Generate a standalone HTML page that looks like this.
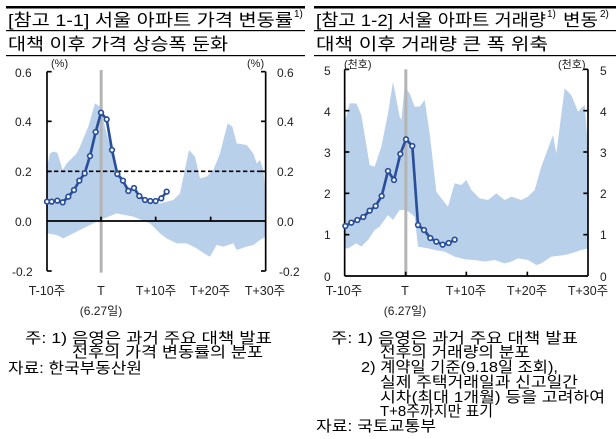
<!DOCTYPE html>
<html><head><meta charset="utf-8"><style>
html,body{margin:0;padding:0;background:#fff;}
svg{display:block;font-family:"Liberation Sans","Noto Sans CJK KR",sans-serif;}
</style></head><body>
<svg width="616" height="439" viewBox="0 0 616 439" xmlns="http://www.w3.org/2000/svg">
<rect x="6" y="6" width="299" height="2.5" fill="#000"/>
<rect x="314" y="6" width="302" height="2.5" fill="#000"/>
<rect x="6" y="30" width="299" height="1.2" fill="#000"/>
<rect x="314" y="30" width="302" height="1.2" fill="#000"/>
<rect x="6" y="55" width="299" height="1.2" fill="#000"/>
<rect x="314" y="55" width="302" height="1.2" fill="#000"/>
<g font-size="17" fill="#000">
<text x="8" y="26" textLength="285" lengthAdjust="spacingAndGlyphs">[참고 1-1] 서울 아파트 가격 변동률</text>
<text x="294" y="17" font-size="10">1)</text>
<text x="8" y="50" textLength="220" lengthAdjust="spacingAndGlyphs">대책 이후 가격 상승폭 둔화</text>
<text x="316" y="26" textLength="230" lengthAdjust="spacingAndGlyphs">[참고 1-2] 서울 아파트 거래량</text>
<text x="547" y="17" font-size="10">1)</text>
<text x="563" y="26" textLength="35" lengthAdjust="spacingAndGlyphs">변동</text>
<text x="600" y="17" font-size="10">2)</text>
<text x="316" y="50" textLength="232" lengthAdjust="spacingAndGlyphs">대책 이후 거래량 큰 폭 위축</text>
</g>

<g transform="scale(0.33333)">
<polygon fill="#b8d0ea" points="141,500 150,460 160,455 172,458 188,510 200,490 230,460 240,440 265,380 285,310 300,320 320,400 340,470 360,540 400,570 430,600 480,610 520,600 540,580 567,450 585,470 600,535 620,530 640,510 660,460 683,370 697,380 710,430 740,435 760,460 770,490 780,480 790,510 797,580 797,710 780,720 760,735 740,740 710,750 700,730 670,740 650,735 630,770 620,765 590,745 560,730 530,730 500,715 480,700 450,670 400,650 350,640 300,660 280,670 240,690 190,715 170,705 141,700"/>
<rect x="299" y="210" width="9" height="608" fill="#b4b4b4"/>
<line x1="141" y1="514" x2="797" y2="514" stroke="#000" stroke-width="5" stroke-dasharray="13,8"/>
<line x1="141" y1="663" x2="797" y2="663" stroke="#000" stroke-width="5"/>
<line x1="141" y1="215" x2="141" y2="813" stroke="#000" stroke-width="5"/>
<line x1="797" y1="215" x2="797" y2="813" stroke="#000" stroke-width="5"/>
<g stroke="#000" stroke-width="5">
<line x1="141" y1="215" x2="155" y2="215"/><line x1="141" y1="364" x2="155" y2="364"/><line x1="141" y1="514" x2="155" y2="514"/><line x1="141" y1="813" x2="155" y2="813"/>
<line x1="797" y1="215" x2="783" y2="215"/><line x1="797" y1="364" x2="783" y2="364"/><line x1="797" y1="514" x2="783" y2="514"/><line x1="797" y1="813" x2="783" y2="813"/>
<line x1="303" y1="663" x2="303" y2="650"/><line x1="467" y1="663" x2="467" y2="650"/><line x1="632" y1="663" x2="632" y2="650"/>
</g>
<polyline fill="none" stroke="#2a4f9a" stroke-width="8" points="141,605 155,605 172,602 188,607 205,590 222,570 238,542 254,520 270,468 287,396 303,338 320,358 336,450 352,522 369,542 385,573 402,564 418,588 435,600 451,603 467,603 484,595 500,575"/>
<g fill="#fff" stroke="#2a4f9a" stroke-width="5">
<circle cx="141" cy="605" r="7"/><circle cx="155" cy="605" r="7"/><circle cx="172" cy="602" r="7"/><circle cx="188" cy="607" r="7"/><circle cx="205" cy="590" r="7"/><circle cx="222" cy="570" r="7"/><circle cx="238" cy="542" r="7"/><circle cx="254" cy="520" r="7"/><circle cx="270" cy="468" r="7"/><circle cx="287" cy="396" r="7"/><circle cx="303" cy="338" r="7"/><circle cx="320" cy="358" r="7"/><circle cx="336" cy="450" r="7"/><circle cx="352" cy="522" r="7"/><circle cx="369" cy="542" r="7"/><circle cx="385" cy="573" r="7"/><circle cx="402" cy="564" r="7"/><circle cx="418" cy="588" r="7"/><circle cx="435" cy="600" r="7"/><circle cx="451" cy="603" r="7"/><circle cx="467" cy="603" r="7"/><circle cx="484" cy="595" r="7"/><circle cx="500" cy="575" r="7"/>
</g>
</g>
<g font-size="12" fill="#222">
<text x="15" y="77">0.6</text><text x="15" y="126">0.4</text><text x="15" y="176">0.2</text><text x="15" y="226">0.0</text><text x="12" y="276">-0.2</text>
<text x="277" y="77">0.6</text><text x="277" y="126">0.4</text><text x="277" y="176">0.2</text><text x="277" y="226">0.0</text><text x="279" y="276">-0.2</text>
<text x="51" y="67" font-size="11">(%)</text><text x="247" y="67" font-size="11">(%)</text>
<g font-size="12.5">
<text x="47" y="295" text-anchor="middle">T-10주</text><text x="101" y="295" text-anchor="middle">T</text>
<text x="156" y="295" text-anchor="middle">T+10주</text><text x="210" y="295" text-anchor="middle">T+20주</text><text x="265" y="295" text-anchor="middle">T+30주</text>
</g>
<text x="101" y="315" text-anchor="middle">(6.27일)</text>
</g>

<g transform="translate(308,0) scale(0.33333)">
<polygon fill="#b8d0ea" points="110,370 125,310 145,310 160,345 185,495 200,500 220,440 240,340 255,245 275,350 280,360 290,260 305,280 320,320 335,320 350,300 365,400 385,575 400,595 420,620 440,550 460,555 475,540 490,570 515,595 540,600 565,580 590,600 610,590 640,600 660,590 680,570 700,500 735,405 745,460 770,265 790,285 810,335 830,315 840,440 840,745 820,750 790,760 770,765 730,770 700,790 685,795 660,780 630,775 610,785 590,790 560,780 530,785 500,780 470,778 440,770 410,755 380,750 360,745 330,740 320,650 295,630 275,630 255,660 240,645 215,680 200,690 180,720 160,740 145,730 120,745 110,745"/>
<rect x="289" y="208" width="9" height="620" fill="#b4b4b4"/>
<line x1="110" y1="828" x2="840" y2="828" stroke="#000" stroke-width="5"/>
<line x1="110" y1="208" x2="110" y2="828" stroke="#000" stroke-width="5"/>
<line x1="840" y1="208" x2="840" y2="828" stroke="#000" stroke-width="5"/>
<g stroke="#000" stroke-width="5">
<line x1="110" y1="208" x2="124" y2="208"/><line x1="110" y1="332" x2="124" y2="332"/><line x1="110" y1="456" x2="124" y2="456"/><line x1="110" y1="580" x2="124" y2="580"/><line x1="110" y1="704" x2="124" y2="704"/>
<line x1="840" y1="208" x2="826" y2="208"/><line x1="840" y1="332" x2="826" y2="332"/><line x1="840" y1="456" x2="826" y2="456"/><line x1="840" y1="580" x2="826" y2="580"/><line x1="840" y1="704" x2="826" y2="704"/>
<line x1="293" y1="828" x2="293" y2="815"/><line x1="475" y1="828" x2="475" y2="815"/><line x1="658" y1="828" x2="658" y2="815"/>
</g>
<polyline fill="none" stroke="#2a4f9a" stroke-width="8" points="112,678 130,668 148,660 166,651 185,632 203,618 221,588 240,513 258,540 277,462 294,418 313,438 330,675 348,690 367,714 385,725 404,734 422,729 440,719"/>
<g fill="#fff" stroke="#2a4f9a" stroke-width="5">
<circle cx="112" cy="678" r="7"/><circle cx="130" cy="668" r="7"/><circle cx="148" cy="660" r="7"/><circle cx="166" cy="651" r="7"/><circle cx="185" cy="632" r="7"/><circle cx="203" cy="618" r="7"/><circle cx="221" cy="588" r="7"/><circle cx="240" cy="513" r="7"/><circle cx="258" cy="540" r="7"/><circle cx="277" cy="462" r="7"/><circle cx="294" cy="418" r="7"/><circle cx="313" cy="438" r="7"/><circle cx="330" cy="675" r="7"/><circle cx="348" cy="690" r="7"/><circle cx="367" cy="714" r="7"/><circle cx="385" cy="725" r="7"/><circle cx="404" cy="734" r="7"/><circle cx="422" cy="729" r="7"/><circle cx="440" cy="719" r="7"/>
</g>
</g>
<g font-size="12" fill="#222">
<text x="324" y="75">5</text><text x="324" y="116">4</text><text x="324" y="157">3</text><text x="324" y="198">2</text><text x="324" y="239">1</text><text x="324" y="281">0</text>
<text x="600" y="75">5</text><text x="600" y="116">4</text><text x="600" y="157">3</text><text x="600" y="198">2</text><text x="600" y="239">1</text><text x="600" y="281">0</text>
<text x="344" y="68" font-size="11">(천호)</text><text x="558" y="68" font-size="11">(천호)</text>
<g font-size="12.5">
<text x="344" y="295" text-anchor="middle">T-10주</text><text x="405" y="295" text-anchor="middle">T</text>
<text x="466" y="295" text-anchor="middle">T+10주</text><text x="527" y="295" text-anchor="middle">T+20주</text><text x="588" y="295" text-anchor="middle">T+30주</text>
</g>
<text x="405" y="315" text-anchor="middle">(6.27일)</text>
</g>

<g font-size="15" fill="#000">
<text x="25" y="343" textLength="247" lengthAdjust="spacingAndGlyphs">주: 1) 음영은 과거 주요 대책 발표</text>
<text x="72" y="357" textLength="191" lengthAdjust="spacingAndGlyphs">전후의 가격 변동률의 분포</text>
<text x="8" y="373" textLength="134" lengthAdjust="spacingAndGlyphs">자료: 한국부동산원</text>
<text x="331" y="343" textLength="247" lengthAdjust="spacingAndGlyphs">주: 1) 음영은 과거 주요 대책 발표</text>
<text x="380" y="357" textLength="150" lengthAdjust="spacingAndGlyphs">전후의 거래량의 분포</text>
<text x="361" y="372" textLength="197" lengthAdjust="spacingAndGlyphs">2) 계약일 기준(9.18일 조회),</text>
<text x="380" y="387" textLength="198" lengthAdjust="spacingAndGlyphs">실제 주택거래일과 신고일간</text>
<text x="380" y="402" textLength="225" lengthAdjust="spacingAndGlyphs">시차(최대 1개월) 등을 고려하여</text>
<text x="380" y="416" textLength="113" lengthAdjust="spacingAndGlyphs">T+8주까지만 표기</text>
<text x="316" y="431" textLength="120" lengthAdjust="spacingAndGlyphs">자료: 국토교통부</text>
</g>
</svg>
</body></html>
